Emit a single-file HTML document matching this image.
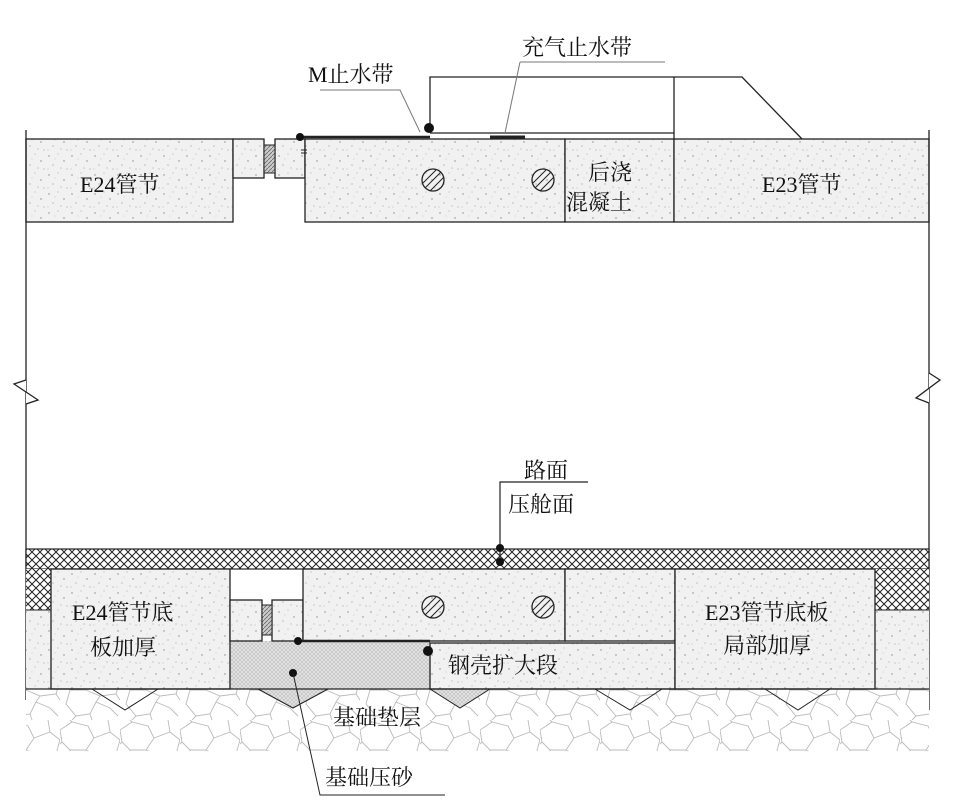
<!DOCTYPE html>
<html><head><meta charset="utf-8"><style>
html,body{margin:0;padding:0;background:#fff;}
svg{display:block;}
text{font-family:"Liberation Serif","Noto Serif CJK SC","Noto Sans CJK SC",serif;fill:#111;}
</style></head><body>
<svg width="965" height="801" viewBox="0 0 965 801" xmlns="http://www.w3.org/2000/svg">
<defs>
<pattern id="conc" width="23" height="19" patternUnits="userSpaceOnUse">
<rect width="23" height="19" fill="#f1f1f1"/>
<circle cx="3" cy="4" r="0.7" fill="#888"/><circle cx="12" cy="2" r="0.5" fill="#999"/>
<circle cx="18" cy="9" r="0.7" fill="#888"/><circle cx="7" cy="13" r="0.6" fill="#999"/>
<circle cx="15" cy="16" r="0.5" fill="#888"/><circle cx="21" cy="17" r="0.6" fill="#aaa"/>
<circle cx="9" cy="7" r="0.4" fill="#999"/><circle cx="2" cy="17" r="0.5" fill="#aaa"/>
</pattern>
<pattern id="xh" width="8" height="8" patternUnits="userSpaceOnUse">
<rect width="8" height="8" fill="#fff"/>
<path d="M0 0L8 8M8 0L0 8" stroke="#222" stroke-width="1"/>
</pattern>
<pattern id="sand" width="4" height="4" patternUnits="userSpaceOnUse">
<rect width="4" height="4" fill="#e4e4e4"/>
<path d="M0 0L4 4M4 0L0 4" stroke="#bbb" stroke-width="0.6"/>
</pattern>
<pattern id="grav" width="60" height="60" patternUnits="userSpaceOnUse">
<rect width="60" height="60" fill="#fff"/>
<path d="M0 10L12 2L28 6L34 18L26 30L10 30L2 22Z M34 18L50 12L60 20L56 34L40 36L26 30 M10 30L6 44L16 56L30 54L36 42L40 36 M36 42L50 48L58 56 M56 34L60 40 M2 22L0 24 M16 56L12 60 M30 54L32 60 M50 12L48 0 M12 2L10 0" fill="none" stroke="#bbb" stroke-width="0.9"/>
</pattern>
<pattern id="gask" width="4" height="4" patternUnits="userSpaceOnUse"><rect width="4" height="4" fill="#ccc"/><path d="M0 4L4 0" stroke="#666" stroke-width="0.8"/></pattern>
</defs>

<g stroke="#222" stroke-width="1.3" fill="url(#conc)">
<!-- top slab -->
<rect x="26" y="139" width="207" height="83"/>
<rect x="233" y="139" width="31" height="39"/>
<rect x="275" y="139" width="30" height="39"/>
<rect x="305" y="139" width="260" height="83"/>
<rect x="565" y="139" width="109" height="83"/>
<rect x="674" y="139" width="255" height="83"/>
</g>
<rect x="264" y="145" width="11" height="28" fill="url(#gask)" stroke="#222"/>
<circle cx="433" cy="180" r="11" fill="none" stroke="#222" stroke-width="1.3"/>
<path d="M425 188L441 172M423 183L436 170M430 191L444 177" stroke="#222"/>
<circle cx="543" cy="180" r="11" fill="none" stroke="#222" stroke-width="1.3"/>
<path d="M535 188L551 172M533 183L546 170M540 191L554 177" stroke="#222"/>

<!-- top frame -->
<g stroke="#222" stroke-width="1.3" fill="none">
<path d="M430 130V77H742L802 139"/>
<path d="M674 77V139"/>
<path d="M430 133H674"/>
<path d="M26 130V700"/>
<path d="M929 130V710"/>
<path d="M300 137H430" stroke-width="2.5"/>
<path d="M490 137H525" stroke-width="3"/>
</g>
<circle cx="300" cy="137" r="4" fill="#111"/>
<circle cx="429" cy="128" r="5" fill="#111"/>
<path d="M301 150h6M301 153h6" stroke="#222"/>
<!-- break marks -->
<path d="M26 380L14 384L38 400L26 404" fill="#fff" stroke="#222" stroke-width="1.3"/>
<path d="M20 378V406" stroke="#fff" stroke-width="0"/>
<path d="M929 373L940 380L916 398L929 403" fill="#fff" stroke="#222" stroke-width="1.3"/>

<!-- leaders top -->
<g stroke="#777" stroke-width="1" fill="none">
<path d="M320 90H400L420 132"/>
<path d="M520 62H665M520 62L505 133"/>
</g>
<text x="308" y="82" font-size="22">M止水带</text>
<text x="522" y="55" font-size="22">充气止水带</text>
<text x="588" y="180" font-size="22">后浇</text>
<text x="566" y="210" font-size="22">混凝土</text>
<text x="80" y="192" font-size="22">E24管节</text>
<text x="762" y="192" font-size="22">E23管节</text>

<!-- bottom -->
<rect x="26" y="549" width="903" height="20" fill="url(#xh)" stroke="#222" stroke-width="1.2"/>
<rect x="26" y="569" width="25" height="41" fill="url(#xh)"/>
<rect x="875" y="569" width="54" height="41" fill="url(#xh)"/>
<rect x="26" y="610" width="25" height="79" fill="url(#conc)"/>
<rect x="875" y="610" width="54" height="79" fill="url(#conc)"/>
<path d="M26 610H51M875 610H929" stroke="#222"/>
<!-- gravel -->
<rect x="26" y="689" width="903" height="62" fill="url(#grav)"/>
<!-- sand -->
<path d="M230 641H430V689H230Z M258 689L293 708L328 689Z M430 689L460 708L490 689Z" fill="url(#sand)"/>
<g stroke="#222" stroke-width="1.3" fill="url(#conc)">
<rect x="51" y="569" width="179" height="120"/>
<rect x="230" y="600" width="32" height="41"/>
<rect x="272" y="600" width="31" height="41"/>
<rect x="303" y="569" width="262" height="72"/>
<rect x="565" y="569" width="110" height="72"/>
<rect x="430" y="643" width="245" height="46"/>
<rect x="675" y="569" width="200" height="120"/>
</g>
<rect x="262" y="605" width="10" height="30" fill="url(#gask)" stroke="#222"/>
<path d="M26 689H929" stroke="#222" stroke-width="1.3"/>
<g stroke="#222" stroke-width="1" fill="none">
<path d="M92 689L125 710L158 689M258 689L293 708L328 689M430 689L460 708L490 689M595 689L630 710L662 689M765 689L798 710L830 689"/>
</g>
<path d="M298 641H430" stroke="#222" stroke-width="2.5"/>
<circle cx="298" cy="641" r="4" fill="#111"/>
<circle cx="428" cy="651" r="5" fill="#111"/>
<circle cx="433" cy="180" r="0" />
<circle cx="433" cy="607" r="11" fill="none" stroke="#222" stroke-width="1.3"/>
<path d="M425 615L441 599M423 610L436 597M430 618L444 604" stroke="#222"/>
<circle cx="543" cy="607" r="11" fill="none" stroke="#222" stroke-width="1.3"/>
<path d="M535 615L551 599M533 610L546 597M540 618L554 604" stroke="#222"/>

<!-- leaders bottom -->
<path d="M500 562V482H588" stroke="#222" stroke-width="1.2" fill="none"/>
<circle cx="500" cy="548" r="4" fill="#111"/>
<circle cx="500" cy="562" r="4" fill="#111"/>
<circle cx="293" cy="673" r="4" fill="#111"/>
<path d="M293 673L320 795H445" stroke="#222" stroke-width="1" fill="none"/>

<text x="524" y="478" font-size="22">路面</text>
<text x="508" y="512" font-size="22">压舱面</text>
<text x="72" y="620" font-size="22">E24管节底</text>
<text x="90" y="655" font-size="22">板加厚</text>
<text x="705" y="620" font-size="22">E23管节底板</text>
<text x="723" y="653" font-size="22">局部加厚</text>
<text x="448" y="673" font-size="22">钢壳扩大段</text>
<text x="333" y="725" font-size="22">基础垫层</text>
<text x="325" y="785" font-size="22">基础压砂</text>
</svg>
</body></html>
